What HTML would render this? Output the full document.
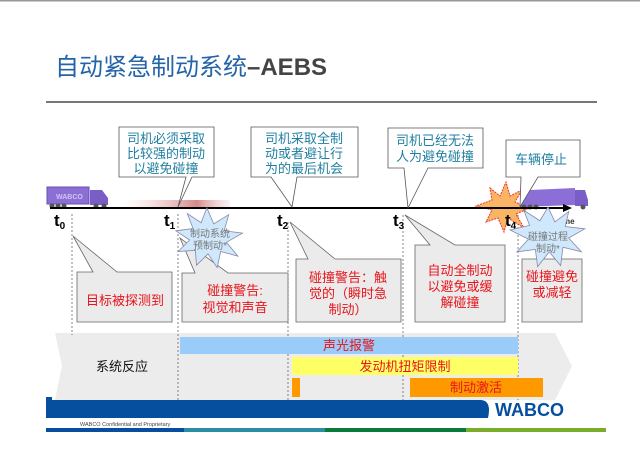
<!DOCTYPE html>
<html><head><meta charset="utf-8"><style>
html,body{margin:0;padding:0;background:#fff;}
svg{display:block;}
text{font-family:"Liberation Sans","Noto Sans CJK SC",sans-serif;}
</style></head><body>
<svg width="640" height="454" viewBox="0 0 640 454" xmlns="http://www.w3.org/2000/svg">
<defs>
<linearGradient id="tr" x1="0" x2="1"><stop offset="0" stop-color="#f6d6d6" stop-opacity="0"/><stop offset="0.7" stop-color="#d88a8a"/><stop offset="1" stop-color="#f0d0d0" stop-opacity="0.3"/></linearGradient>
</defs>
<rect x="0" y="0" width="640" height="1.5" fill="#999"/>
<text x="55" y="75" font-size="24" fill="#2563a8">自动紧急制动系统<tspan fill="#444" font-weight="bold">–AEBS</tspan></text>
<rect x="46" y="101" width="551" height="2" fill="#777"/>

<path d="M55,333 L555,333 L572,366 L555,400 L55,400 L62,366 Z" fill="#ececec"/>
<g stroke="#666" stroke-width="0.8" stroke-dasharray="2,2">
<line x1="72" y1="214" x2="72" y2="335"/>
<line x1="178" y1="214" x2="178" y2="408"/>
<line x1="288" y1="222" x2="288" y2="400"/>
<line x1="403" y1="215" x2="403" y2="400"/>
<line x1="518" y1="215" x2="518" y2="400"/>
</g>

<rect x="120" y="200" width="110" height="7" fill="url(#tr)"/>
<rect x="47" y="187" width="42" height="17" fill="#8c6fd6" stroke="#6a4fb0"/>
<text x="56" y="199" font-size="7" fill="#cfc6f0" font-weight="bold">WABCO</text>
<path d="M90,190 L102,190 L108,198 L108,205 L90,205 Z" fill="#7a5ec8"/>
<g fill="#555"><circle cx="52" cy="206" r="2.5"/><circle cx="58" cy="206" r="2.5"/><circle cx="64" cy="206" r="2.5"/><circle cx="96" cy="206" r="2.5"/><circle cx="104" cy="206" r="2.5"/></g>

<polygon points="490,188 500,196 506,182 510,196 522,190 515,202 530,208 516,214 524,228 508,218 504,232 498,218 486,222 492,210 476,206 492,200" fill="#f9b563" stroke="#e33" stroke-width="1" stroke-dasharray="2,1"/>
<path d="M520,207 L522,197 L530,190 L575,188 L575,205 Z" fill="#8c6fd6"/>
<path d="M575,190 L585,190 L588,200 L588,206 L575,206 Z" fill="#7a5ec8"/>
<g fill="#555"><circle cx="524" cy="207" r="2.5"/><circle cx="530" cy="207" r="2.5"/><circle cx="536" cy="207" r="2.5"/><circle cx="583" cy="207" r="2.5"/></g>

<line x1="50" y1="208" x2="565" y2="208" stroke="#000" stroke-width="2"/>
<polygon points="572,208 563,204 563,212" fill="#000"/>
<text x="563" y="224" font-size="8" fill="#333" font-weight="bold">me</text>

<g font-weight="bold" font-size="17" fill="#000">
<text x="54" y="226">t<tspan font-size="10" dy="3">0</tspan></text>
<text x="164" y="226">t<tspan font-size="10" dy="3">1</tspan></text>
<text x="277" y="226">t<tspan font-size="10" dy="3">2</tspan></text>
<text x="393" y="226">t<tspan font-size="10" dy="3">3</tspan></text>
<text x="505" y="226">t<tspan font-size="10" dy="3">4</tspan></text>
</g>

<g fill="#fff" stroke="#555" stroke-width="0.8">
<path d="M119,127 H214 V177 H192 L178,207 L186,177 H119 Z"/>
<path d="M251,127 H358 V177 H297 L292,207 L271,177 H251 Z"/>
<path d="M388,128 H483 V168 H428 L408,208 L404,168 H388 Z"/>
<path d="M506,140 H580 V177 H538 L520,207 L521,177 H506 Z"/>
</g>
<g font-size="13" fill="#1f7fa0" text-anchor="middle">
<text x="166" y="143">司机必须采取</text><text x="166" y="158">比较强的制动</text><text x="166" y="173">以避免碰撞</text>
<text x="304" y="143">司机采取全制</text><text x="304" y="158">动或者避让行</text><text x="304" y="173">为的最后机会</text>
<text x="435" y="145">司机已经无法</text><text x="435" y="161">人为避免碰撞</text>
<text x="541" y="164">车辆停止</text>
</g>

<g fill="#ebebeb" stroke="#666" stroke-width="0.8">
<path d="M77,272 H93 L73,236 L117,272 H172 V322 H77 Z"/>
<path d="M182,273 H195 L180,238 L228,273 H288 V322 H182 Z"/>
<path d="M296,259 H308 L290,222 L335,259 H401 V322 H296 Z"/>
<path d="M415,245 H430 L405,215 L455,245 H505 V322 H415 Z"/>
<path d="M522,259 H582 V322 H522 Z"/>
</g>
<g font-size="13" fill="#e8141b" text-anchor="middle">
<text x="125" y="305">目标被探测到</text>
<text x="235" y="295">碰撞警告:</text><text x="235" y="312">视觉和声音</text>
<text x="348" y="282">碰撞警告：触</text><text x="348" y="298">觉的（瞬时急</text><text x="348" y="314">制动）</text>
<text x="460" y="275">自动全制动</text><text x="460" y="291">以避免或缓</text><text x="460" y="307">解碰撞</text>
<text x="552" y="281">碰撞避免</text><text x="552" y="297">或减轻</text>
</g>

<g transform="translate(208,240) scale(1.15) translate(-208,-240)">
<polygon points="207,212 213,226 226,218 222,232 238,234 224,242 234,254 219,250 216,264 208,252 198,262 197,249 182,250 192,240 180,232 195,230 190,217 202,225" fill="#cfe8fb" stroke="#88a" stroke-width="0.7"/>
</g>
<text x="210" y="237" font-size="10" fill="#777" text-anchor="middle">制动系统</text>
<text x="210" y="249" font-size="10" fill="#777" text-anchor="middle">预制动*</text>
<g transform="translate(548,238) scale(1.15) translate(-548,-238)">
<polygon points="548,211 554,224 566,215 563,228 580,230 566,238 577,250 561,246 559,262 549,250 539,263 537,248 521,250 531,239 515,231 532,227 527,214 541,223" fill="#cfe8fb" stroke="#88a" stroke-width="0.7"/>
</g>
<text x="548" y="240" font-size="10" fill="#777" text-anchor="middle">碰撞过程</text>
<text x="548" y="252" font-size="10" fill="#777" text-anchor="middle">制动*</text>

<rect x="180" y="337" width="338" height="17" fill="#99ccf8"/>
<text x="349" y="350" font-size="13" fill="#e8141b" text-anchor="middle">声光报警</text>
<rect x="292" y="357" width="226" height="18" fill="#ffff66"/>
<text x="405" y="371" font-size="13" fill="#e8141b" text-anchor="middle">发动机扭矩限制</text>
<rect x="292" y="378" width="8" height="19" fill="#ff9900"/>
<rect x="410" y="378" width="133" height="19" fill="#ff9900"/>
<text x="476" y="392" font-size="13" fill="#e8141b" text-anchor="middle">制动激活</text>
<text x="122" y="371" font-size="13" fill="#111" text-anchor="middle">系统反应</text>

<path d="M46,397 H52 V400 H480 Q492,400 488,418 H46 Z" fill="#064f9e"/>
<text x="495" y="416" font-size="18" font-weight="bold" fill="#064f9e">WABCO</text>
<text x="80" y="426" font-size="5.5" fill="#444">WABCO Confidential and Proprietary</text>
<rect x="46" y="428" width="138" height="4" fill="#064f9e"/>
<rect x="184" y="428" width="141" height="4" fill="#2a8fa5"/>
<rect x="325" y="428" width="141" height="4" fill="#0a7a3a"/>
<rect x="466" y="428" width="140" height="4" fill="#7aad2a"/>
</svg>
</body></html>
